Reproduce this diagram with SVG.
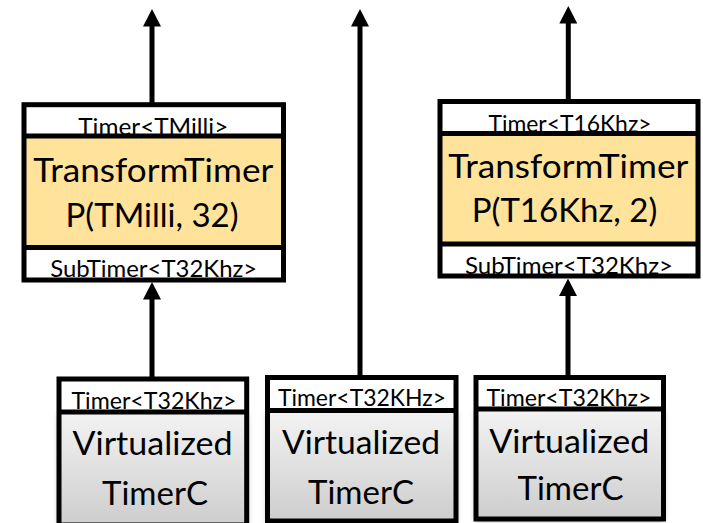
<svg xmlns="http://www.w3.org/2000/svg" width="703" height="523" viewBox="0 0 703 523">
  <defs>
    <style>
      .frame { fill: none; stroke: #000; stroke-width: 5; }
      .div { stroke: #000; stroke-width: 5; }
      .hdr { fill: #fff; }
      .xf { fill: #FFE39B; }
      .vt { fill: url(#grayFill); filter: url(#soft); }
      .edge { stroke: #000; stroke-width: 5; fill: none; marker-end: url(#head); }
      text { font-family: Lato, "Open Sans", sans-serif; fill: #000; text-anchor: middle; }
      .small { font-size: 24px; }
      .big { font-size: 33px; }
    </style>
    <linearGradient id="grayFill" x1="0" y1="0" x2="0" y2="1">
      <stop offset="0" stop-color="#f3f3f3"/>
      <stop offset="1" stop-color="#cdcdcd"/>
    </linearGradient>
    <filter id="soft" x="-20%" y="-20%" width="140%" height="140%">
      <feDropShadow dx="0" dy="2" stdDeviation="3" flood-color="#000" flood-opacity="0.35"/>
    </filter>
    <marker id="head" viewBox="0 0 17.5 18" markerWidth="17.5" markerHeight="18" refX="5.5" refY="9" orient="auto" markerUnits="userSpaceOnUse">
      <path d="M0,0 L17.5,9 L0,18 z" fill="#000"/>
    </marker>
  </defs>

  <rect width="703" height="523" fill="#fff"/>

  <!-- connectors -->
  <g id="connectors">
    <line class="edge" x1="152" y1="103" x2="152" y2="21"/>
    <line class="edge" x1="360" y1="377" x2="360" y2="21"/>
    <line class="edge" x1="568.3" y1="100" x2="568.3" y2="18"/>
    <line class="edge" x1="152" y1="378" x2="152" y2="294"/>
    <line class="edge" x1="568" y1="376" x2="568" y2="290.5"/>
  </g>

  <!-- TransformTimerP(TMilli, 32) -->
  <g id="xform-milli">
    <rect class="hdr" x="24" y="104.7" width="259.5" height="31.3"/>
    <rect class="xf" x="24" y="136" width="259.5" height="111.5"/>
    <rect class="hdr" x="24" y="247.5" width="259.5" height="32.5"/>
    <text class="small" x="153.3" y="135" textLength="150" lengthAdjust="spacingAndGlyphs">Timer&lt;TMilli&gt;</text>
    <text class="big" x="153.3" y="181.7" textLength="240" lengthAdjust="spacingAndGlyphs">TransformTimer</text>
    <text class="big" x="152" y="227">P(TMilli, 32)</text>
    <text class="small" x="153.7" y="276.5" textLength="207" lengthAdjust="spacingAndGlyphs">SubTimer&lt;T32Khz&gt;</text>
    <line class="div" x1="24" y1="136" x2="283.5" y2="136"/>
    <line class="div" x1="24" y1="247.5" x2="283.5" y2="247.5"/>
    <rect class="frame" x="24" y="104.7" width="259.5" height="175.3"/>
  </g>

  <!-- TransformTimerP(T16Khz, 2) -->
  <g id="xform-16khz">
    <rect class="hdr" x="440" y="101.5" width="258" height="32"/>
    <rect class="xf" x="440" y="133.5" width="258" height="110.5"/>
    <rect class="hdr" x="440" y="244" width="258" height="32"/>
    <text class="small" x="570" y="131.5" textLength="163" lengthAdjust="spacingAndGlyphs">Timer&lt;T16Khz&gt;</text>
    <text class="big" x="568.3" y="177.5" textLength="240" lengthAdjust="spacingAndGlyphs">TransformTimer</text>
    <text class="big" x="564.5" y="222">P(T16Khz, 2)</text>
    <text class="small" x="569" y="273.5" textLength="208" lengthAdjust="spacingAndGlyphs">SubTimer&lt;T32Khz&gt;</text>
    <line class="div" x1="440" y1="133.5" x2="698" y2="133.5"/>
    <line class="div" x1="440" y1="244" x2="698" y2="244"/>
    <rect class="frame" x="440" y="101.5" width="258" height="174.5"/>
  </g>

  <!-- VirtualizedTimerC, left -->
  <g id="vtimer-1">
    <rect class="vt" x="59" y="412" width="187.7" height="113"/>
    <rect class="hdr" x="59" y="379" width="187.7" height="33"/>
    <text class="small" x="154" y="408.5" textLength="165" lengthAdjust="spacingAndGlyphs">Timer&lt;T32Khz&gt;</text>
    <text class="big" x="152.5" y="454.5" textLength="160" lengthAdjust="spacingAndGlyphs">Virtualized</text>
    <text class="big" x="155" y="505">TimerC</text>
    <line class="div" x1="59" y1="412" x2="246.7" y2="412"/>
    <rect class="frame" x="59" y="379" width="187.7" height="146"/>
  </g>

  <!-- VirtualizedTimerC, middle -->
  <g id="vtimer-2">
    <rect class="vt" x="267.5" y="410.5" width="188.5" height="110.5"/>
    <rect class="hdr" x="267.5" y="377.5" width="188.5" height="33"/>
    <text class="small" x="362" y="406" textLength="168" lengthAdjust="spacingAndGlyphs">Timer&lt;T32KHz&gt;</text>
    <text class="big" x="361" y="453.5" textLength="158" lengthAdjust="spacingAndGlyphs">Virtualized</text>
    <text class="big" x="361" y="503.5">TimerC</text>
    <line class="div" x1="267.5" y1="410.5" x2="456" y2="410.5"/>
    <rect class="frame" x="267.5" y="377.5" width="188.5" height="143.5"/>
  </g>

  <!-- VirtualizedTimerC, right -->
  <g id="vtimer-3">
    <rect class="vt" x="476" y="409" width="187.5" height="110"/>
    <rect class="hdr" x="476" y="377.5" width="187.5" height="31.5"/>
    <text class="small" x="569" y="406" textLength="165" lengthAdjust="spacingAndGlyphs">Timer&lt;T32Khz&gt;</text>
    <text class="big" x="569.3" y="453.3" textLength="160" lengthAdjust="spacingAndGlyphs">Virtualized</text>
    <text class="big" x="570.5" y="500">TimerC</text>
    <line class="div" x1="476" y1="409" x2="663.5" y2="409"/>
    <rect class="frame" x="476" y="377.5" width="187.5" height="141.5"/>
  </g>
</svg>
